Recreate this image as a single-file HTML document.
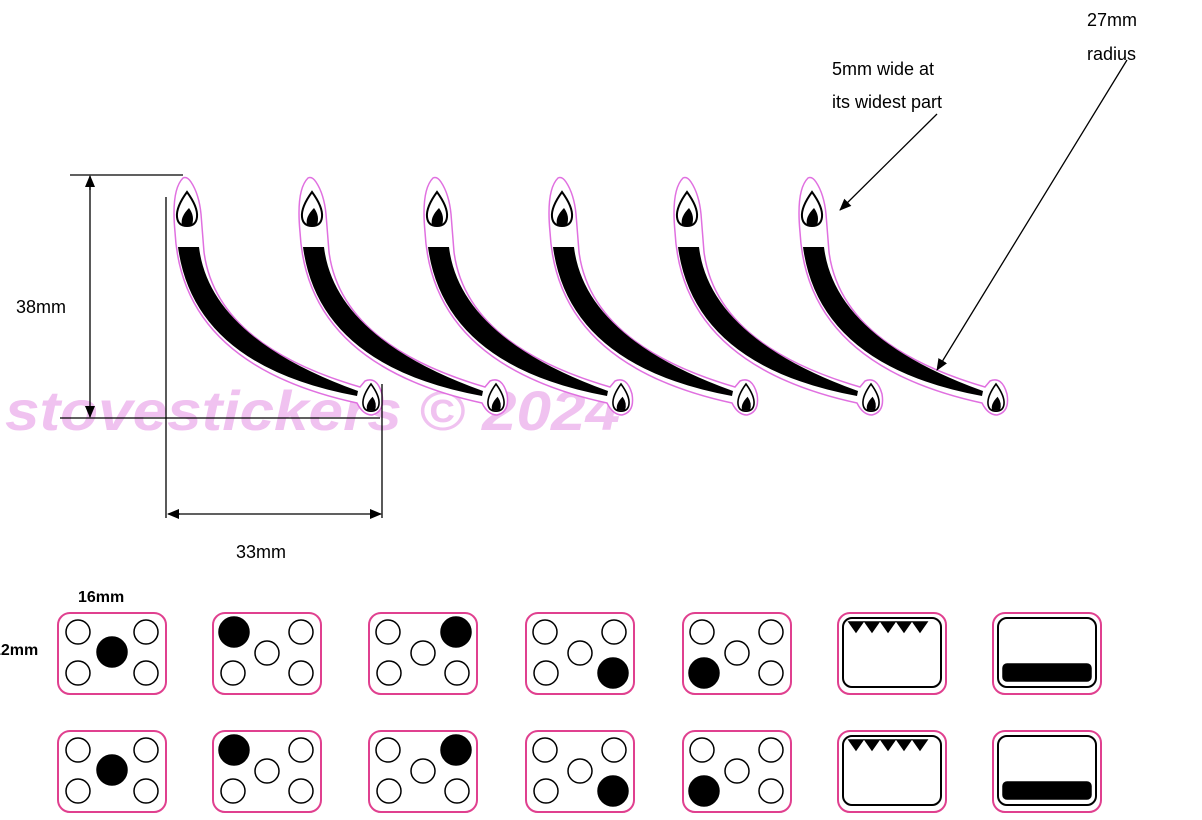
<!DOCTYPE html>
<html><head><meta charset="utf-8"><style>body{margin:0;background:#fff}svg{display:block}</style></head><body>
<svg width="1202" height="820" viewBox="0 0 1202 820" xmlns="http://www.w3.org/2000/svg" font-family="Liberation Sans, sans-serif">
<defs>
<marker id="a" markerWidth="12" markerHeight="10" refX="11" refY="5" orient="auto" markerUnits="userSpaceOnUse"><path d="M0,0 L12,5 L0,10 Z" fill="#000"/></marker>
<g id="fl"><path d="M0,-20 Q-11,-5 -10,5 Q-9,14 0,14 Q9,14 10,5 Q11,-5 0,-20 Z" fill="#fff" stroke="#000" stroke-width="2"/><path d="M2,-4 Q-7,5 -5,13 L5,13 Q8,4 2,-4 Z" fill="#000"/></g>
<g id="cv">
<path d="M183,178 Q171,190 175,232 Q182,365 357,403 Q363,415 372,415 Q385,412 382,394 Q377,376 365,381 L360,387 Q216,345 204,252 L201,214 Q199,194 191,182 Q187,176 183,178 Z" fill="#fff" stroke="#e070e0" stroke-width="1.5"/>
<use href="#fl" x="187" y="212"/>
<path d="M178,247 L199,247 Q210,338 358,391 L357,396 Q194,366 178,247 Z" fill="#000"/>
<use href="#fl" transform="translate(371,400) scale(0.8)"/>
</g>
<g id="bx"><rect x="1" y="1" width="108" height="81" rx="12" fill="#fff" stroke="#e0408f" stroke-width="2"/></g>
</defs>
<text x="5" y="430" font-size="56" font-weight="bold" font-style="italic" fill="#f0c2f0" textLength="615" lengthAdjust="spacingAndGlyphs">stovestickers © 2024</text>
<use href="#cv"/><use href="#cv" x="125"/><use href="#cv" x="250"/><use href="#cv" x="375"/><use href="#cv" x="500"/><use href="#cv" x="625"/>
<g stroke="#000" stroke-width="1.3" fill="none">
<line x1="70" y1="175" x2="183" y2="175"/>
<line x1="90" y1="190" x2="90" y2="176" marker-end="url(#a)"/><line x1="90" y1="180" x2="90" y2="417" marker-end="url(#a)"/>
<line x1="60" y1="418" x2="380" y2="418"/>
<line x1="166" y1="197" x2="166" y2="518"/><line x1="382" y1="384" x2="382" y2="518"/>
<line x1="180" y1="514" x2="168" y2="514" marker-end="url(#a)"/><line x1="175" y1="514" x2="381" y2="514" marker-end="url(#a)"/>
<line x1="937" y1="114" x2="840" y2="210" marker-end="url(#a)"/>
<line x1="1127" y1="60" x2="937" y2="370" marker-end="url(#a)"/>
</g>
<g font-size="18" fill="#000">
<text x="16" y="313">38mm</text><text x="236" y="558">33mm</text>
<text x="832" y="75">5mm wide at</text><text x="832" y="108">its widest part</text>
<text x="1087" y="26">27mm</text><text x="1087" y="60">radius</text>
<text x="78" y="602" font-size="16" font-weight="bold">16mm</text>
<text x="-8" y="655" font-size="16" font-weight="bold">12mm</text>
</g>
<g stroke="#000" stroke-width="1.5">
<g id="r1">
<g transform="translate(57,612)"><use href="#bx"/><circle cx="21" cy="20" r="12" fill="#fff"/><circle cx="89" cy="20" r="12" fill="#fff"/><circle cx="21" cy="61" r="12" fill="#fff"/><circle cx="89" cy="61" r="12" fill="#fff"/><circle cx="55" cy="40" r="15" fill="#000"/></g>
<g transform="translate(212,612)"><use href="#bx"/><circle cx="22" cy="20" r="15" fill="#000"/><circle cx="89" cy="20" r="12" fill="#fff"/><circle cx="21" cy="61" r="12" fill="#fff"/><circle cx="89" cy="61" r="12" fill="#fff"/><circle cx="55" cy="41" r="12" fill="#fff"/></g>
<g transform="translate(368,612)"><use href="#bx"/><circle cx="20" cy="20" r="12" fill="#fff"/><circle cx="88" cy="20" r="15" fill="#000"/><circle cx="21" cy="61" r="12" fill="#fff"/><circle cx="89" cy="61" r="12" fill="#fff"/><circle cx="55" cy="41" r="12" fill="#fff"/></g>
<g transform="translate(525,612)"><use href="#bx"/><circle cx="20" cy="20" r="12" fill="#fff"/><circle cx="89" cy="20" r="12" fill="#fff"/><circle cx="21" cy="61" r="12" fill="#fff"/><circle cx="88" cy="61" r="15" fill="#000"/><circle cx="55" cy="41" r="12" fill="#fff"/></g>
<g transform="translate(682,612)"><use href="#bx"/><circle cx="20" cy="20" r="12" fill="#fff"/><circle cx="89" cy="20" r="12" fill="#fff"/><circle cx="22" cy="61" r="15" fill="#000"/><circle cx="89" cy="61" r="12" fill="#fff"/><circle cx="55" cy="41" r="12" fill="#fff"/></g>
<g transform="translate(837,612)"><use href="#bx"/><rect x="6" y="6" width="98" height="69" rx="9" fill="#fff" stroke-width="2"/><polygon points="12,10 26,10 19,20" fill="#000"/><polygon points="28,10 42,10 35,20" fill="#000"/><polygon points="44,10 58,10 51,20" fill="#000"/><polygon points="60,10 74,10 67,20" fill="#000"/><polygon points="76,10 90,10 83,20" fill="#000"/></g>
<g transform="translate(992,612)"><use href="#bx"/><rect x="6" y="6" width="98" height="69" rx="9" fill="#fff" stroke-width="2"/><rect x="11" y="52" width="88" height="17" rx="4" fill="#000"/></g>
</g>
<use href="#r1" y="118"/>
</g>
</svg>
</body></html>
